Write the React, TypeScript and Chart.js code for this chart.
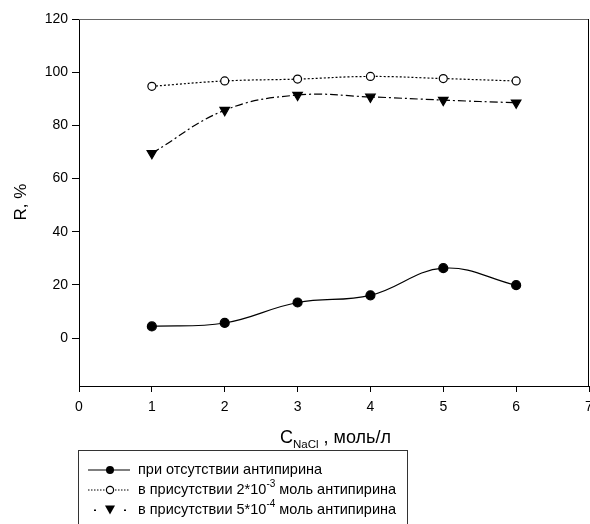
import React, { useEffect, useRef } from "react";
import { Chart, registerables } from "chart.js";

Chart.register(...registerables);

const X_VALUES = [1, 2, 3, 4, 5, 6];
const SERIES_NONE = [4.4, 5.7, 13.4, 16.1, 26.3, 19.9];
const SERIES_2E3 = [94.7, 96.7, 97.4, 98.4, 97.6, 96.7];
const SERIES_5E4 = [69.5, 85.7, 91.4, 90.7, 89.5, 88.5];
const X_TICKS = [0, 1, 2, 3, 4, 5, 6, 7];
const Y_TICKS = [0, 20, 40, 60, 80, 100, 120];
const LABEL_NONE = "при отсутствии антипирина";
const LABEL_A = ["в присутствии 2*10", "-3", " моль антипирина"];
const LABEL_B = ["в присутствии 5*10", "-4", " моль антипирина"];

const FONT = "Arial, 'Liberation Sans', sans-serif";

const overlay = {
  id: "overlay",
  afterDraw(chart: any) {
    const ctx = chart.ctx as CanvasRenderingContext2D;
    const a = chart.chartArea;
    ctx.save();
    // frame top & right
    ctx.lineWidth = 1.2;
    ctx.strokeStyle = "#666";
    ctx.beginPath();
    ctx.moveTo(a.left, a.top + 0.5);
    ctx.lineTo(a.right, a.top + 0.5);
    ctx.stroke();
    ctx.lineWidth = 1;
    ctx.strokeStyle = "#000";
    ctx.beginPath();
    ctx.moveTo(a.right - 0.5, a.top);
    ctx.lineTo(a.right - 0.5, a.bottom);
    ctx.stroke();

    // y title
    ctx.fillStyle = "#000";
    ctx.font = `17px ${FONT}`;
    ctx.save();
    ctx.translate(21, 202);
    ctx.rotate(-Math.PI / 2);
    ctx.textAlign = "center";
    ctx.textBaseline = "middle";
    ctx.fillText("R, %", 0, 0);
    ctx.restore();

    // x title
    ctx.textAlign = "left";
    ctx.textBaseline = "alphabetic";
    let x = 280;
    ctx.font = `18px ${FONT}`;
    ctx.fillText("C", x, 443);
    x += ctx.measureText("C").width;
    ctx.font = `11.5px ${FONT}`;
    ctx.fillText("NaCl", x, 448);
    x += ctx.measureText("NaCl").width;
    ctx.font = `18px ${FONT}`;
    ctx.fillText(" , моль/л", x, 443);

    // legend box
    ctx.strokeStyle = "#333";
    ctx.lineWidth = 1;
    ctx.strokeRect(78.5, 450.5, 329, 90);

    const rows = [470, 490, 510];
    const sx0 = 88, sx1 = 130, mx = 110, tx = 138;
    // row 1
    ctx.strokeStyle = "#000";
    ctx.lineWidth = 1.2;
    ctx.setLineDash([]);
    ctx.beginPath();
    ctx.moveTo(sx0, rows[0]);
    ctx.lineTo(sx1, rows[0]);
    ctx.stroke();
    ctx.beginPath();
    ctx.arc(mx, rows[0], 4, 0, Math.PI * 2);
    ctx.fillStyle = "#000";
    ctx.fill();
    // row 2
    ctx.setLineDash([1.5, 1.5]);
    ctx.beginPath();
    ctx.moveTo(sx0, rows[1]);
    ctx.lineTo(sx1, rows[1]);
    ctx.stroke();
    ctx.setLineDash([]);
    ctx.beginPath();
    ctx.arc(mx, rows[1], 3.6, 0, Math.PI * 2);
    ctx.fillStyle = "#fff";
    ctx.fill();
    ctx.stroke();
    // row 3
    ctx.fillStyle = "#000";
    ctx.fillRect(94, rows[2] - 0.5, 2, 1.5);
    ctx.fillRect(124, rows[2] - 0.5, 2, 1.5);
    ctx.beginPath();
    ctx.moveTo(mx - 5, rows[2] - 4.5);
    ctx.lineTo(mx + 5, rows[2] - 4.5);
    ctx.lineTo(mx, rows[2] + 4.5);
    ctx.closePath();
    ctx.fill();

    // texts
    ctx.fillStyle = "#000";
    ctx.textBaseline = "middle";
    ctx.font = `14.5px ${FONT}`;
    ctx.fillText(LABEL_NONE, tx, rows[0]);
    const drawSup = (parts: string[], y: number) => {
      let cx = tx;
      ctx.font = `14.5px ${FONT}`;
      ctx.fillText(parts[0], cx, y);
      cx += ctx.measureText(parts[0]).width;
      ctx.font = `10px ${FONT}`;
      ctx.fillText(parts[1], cx, y - 6);
      cx += ctx.measureText(parts[1]).width;
      ctx.font = `14.5px ${FONT}`;
      ctx.fillText(parts[2], cx, y);
    };
    drawSup(LABEL_A, rows[1]);
    drawSup(LABEL_B, rows[2]);
    ctx.restore();
  },
};

export default function App() {
  const ref = useRef<HTMLCanvasElement>(null);
  useEffect(() => {
    if (!ref.current) return;
    const mk = (arr: number[]) => X_VALUES.map((x, i) => ({ x, y: arr[i] }));
    const chart = new Chart(ref.current, {
      type: "line",
      data: {
        datasets: [
          {
            label: LABEL_NONE,
            data: mk(SERIES_NONE),
            borderColor: "#000",
            borderWidth: 1.2,
            backgroundColor: "#000",
            pointBackgroundColor: "#000",
            pointBorderColor: "#000",
            pointRadius: 4.5,
            pointStyle: "circle",
            tension: 0.4,
          },
          {
            label: LABEL_A.join(""),
            data: mk(SERIES_2E3),
            borderColor: "#000",
            borderWidth: 1.2,
            borderDash: [2, 2],
            pointBackgroundColor: "#fff",
            pointBorderColor: "#000",
            pointBorderWidth: 1.2,
            pointRadius: 4,
            pointStyle: "circle",
            tension: 0.4,
          },
          {
            label: LABEL_B.join(""),
            data: mk(SERIES_5E4),
            borderColor: "#000",
            borderWidth: 1.2,
            borderDash: [8, 3, 2, 3],
            pointBackgroundColor: "#000",
            pointBorderColor: "#000",
            pointRadius: 5.5,
            pointStyle: "triangle",
            pointRotation: 180,
            tension: 0.4,
          },
        ],
      },
      options: {
        animation: false,
        responsive: false,
        layout: { autoPadding: false, padding: { top: 19, right: 1, left: 0, bottom: 0 } },
        plugins: { legend: { display: false }, tooltip: { enabled: false } },
        scales: {
          x: {
            type: "linear",
            min: 0,
            max: 7,
            afterFit: (s: any) => {
              s.height = 138;
              s.paddingLeft = 0;
              s.paddingRight = 0;
            },
            afterBuildTicks: (s: any) => {
              s.ticks = X_TICKS.map((v) => ({ value: v }));
            },
            grid: { drawOnChartArea: false, drawTicks: true, tickLength: 6, color: "#000" },
            border: { display: true, color: "#000", width: 1 },
            ticks: { color: "#000", font: { family: FONT, size: 14 }, padding: 7, maxRotation: 0 },
          },
          y: {
            type: "linear",
            min: -18,
            max: 120,
            afterFit: (s: any) => {
              s.width = 79;
              s.paddingTop = 0;
              s.paddingBottom = 0;
            },
            afterBuildTicks: (s: any) => {
              s.ticks = Y_TICKS.map((v) => ({ value: v }));
            },
            grid: { drawOnChartArea: false, drawTicks: true, tickLength: 7, color: "#000" },
            border: { display: true, color: "#000", width: 1 },
            ticks: { color: "#000", font: { family: FONT, size: 14 }, padding: 4 },
          },
        },
      },
      plugins: [overlay],
    } as any);
    return () => chart.destroy();
  }, []);
  return (
    <div style={{ position: "absolute", left: 0, top: 0, width: 590, height: 524, overflow: "hidden", background: "#fff" }}>
      <canvas ref={ref} width={590} height={524} style={{ display: "block" }} />
    </div>
  );
}
